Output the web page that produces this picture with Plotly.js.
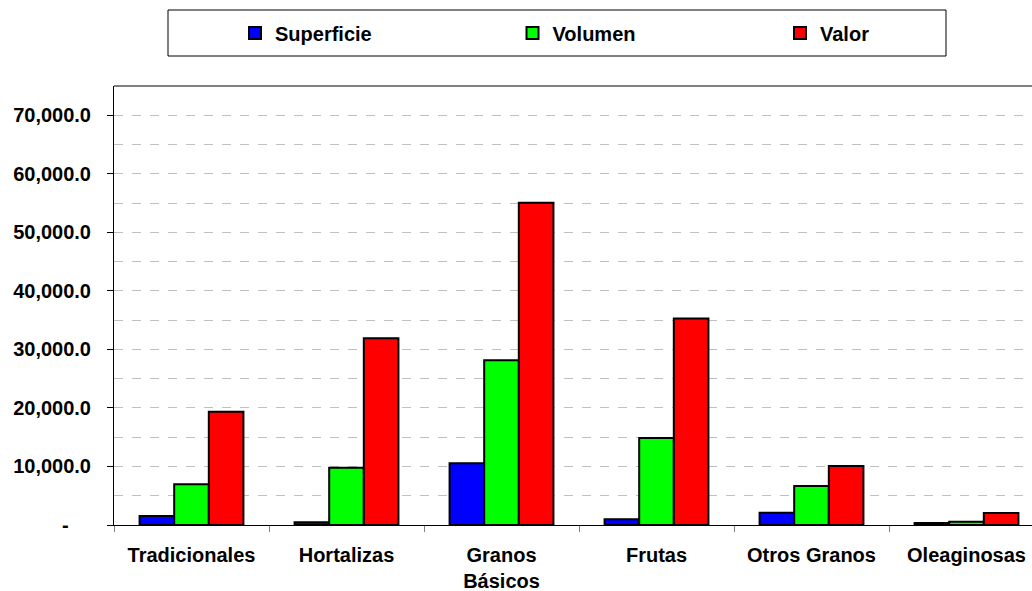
<!DOCTYPE html>
<html>
<head>
<meta charset="utf-8">
<script src="https://cdn.plot.ly/plotly-3.0.1.min.js"></script>
<style>html,body{margin:0;padding:0;background:#fff;}#chart{width:1032px;height:591px;}</style>
</head>
<body>
<div id="chart"></div>
<script>
const categories = ["Tradicionales", "Hortalizas", "Granos<br>Básicos", "Frutas", "Otros Granos", "Oleaginosas"];
const superficie = [1540, 460, 10530, 1000, 2100, 350];
const volumen = [6950, 9780, 28150, 14850, 6650, 560];
const valor = [19330, 31900, 55070, 35300, 10070, 2050];
const seriesNames = ["Superficie", "Volumen", "Valor"];
const seriesColors = ["#0000FF", "#00FF00", "#FF0000"];
const yTickVals = [0, 10000, 20000, 30000, 40000, 50000, 60000, 70000];
const yTickText = ["-\u00a0\u00a0\u00a0\u00a0", "10,000.0", "20,000.0", "30,000.0", "40,000.0", "50,000.0", "60,000.0", "70,000.0"];

const FONT = "'Liberation Sans', Arial, sans-serif";
const W = 1032, H = 591;
const allSeries = [superficie, volumen, valor];
const legendIds = ['legend', 'legend2', 'legend3'];
const legendPx = [235, 512.5, 780];

const traces = allSeries.map((vals, i) => ({
  type: 'bar',
  name: seriesNames[i],
  legend: legendIds[i],
  x: categories,
  y: vals,
  marker: {color: seriesColors[i], line: {color: '#000000', width: 2}},
  hoverinfo: 'x+y'
}));

const layout = {
  width: W, height: H,
  margin: {l: 114, r: 0, t: 86, b: 66, autoexpand: false},
  paper_bgcolor: '#ffffff', plot_bgcolor: '#ffffff',
  font: {family: FONT, size: 20, color: '#000000', weight: 'bold'},
  barmode: 'group',
  bargap: 0.33, bargroupgap: 0,
  showlegend: true,
  xaxis: {
    range: [-0.5, 5.5 - 12/155],
    showline: true, linecolor: '#000000', linewidth: 1,
    ticks: 'outside', tickson: 'boundaries', ticklen: 6, tickcolor: '#808080',
    ticklabelstandoff: 12,
    tickfont: {family: FONT, size: 20, color: '#000000', weight: 'bold'},
    showgrid: false, zeroline: false, fixedrange: true
  },
  yaxis: {
    range: [0, 75000],
    tickvals: yTickVals, ticktext: yTickText,
    showline: true, linecolor: '#000000', linewidth: 1,
    ticks: 'outside', ticklen: 6, tickcolor: '#000000',
    ticklabelstandoff: 12,
    tickfont: {family: FONT, size: 20, color: '#000000', weight: 'bold'},
    showgrid: true, gridcolor: '#c0c0c0', griddash: 'dash', gridwidth: 1,
    minor: {dtick: 5000, tick0: 0, showgrid: true, gridcolor: '#c0c0c0', griddash: 'dash', gridwidth: 1, ticks: ''},
    zeroline: false, fixedrange: true
  },
  shapes: [
    {type: 'line', xref: 'paper', yref: 'paper', x0: 0, x1: 1, y0: 1, y1: 1, line: {color: '#000000', width: 1}},
    {type: 'rect', xref: 'paper', yref: 'paper',
     x0: (168 - 114) / 918, x1: (946 - 114) / 918,
     y0: (525 - 56) / 439, y1: (525 - 10) / 439,
     line: {color: '#000000', width: 1}, fillcolor: 'rgba(0,0,0,0)', layer: 'above'}
  ]
};

legendIds.forEach((id, i) => {
  layout[id] = {
    orientation: 'h', xref: 'container', yref: 'container',
    x: legendPx[i] / W, xanchor: 'left',
    y: 1 - 33 / H, yanchor: 'middle',
    bgcolor: 'rgba(0,0,0,0)', borderwidth: 0,
    font: {family: FONT, size: 20, color: '#000000', weight: 'bold'}
  };
});

Plotly.newPlot('chart', traces, layout, {displayModeBar: false, staticPlot: true});
</script>
</body>
</html>
